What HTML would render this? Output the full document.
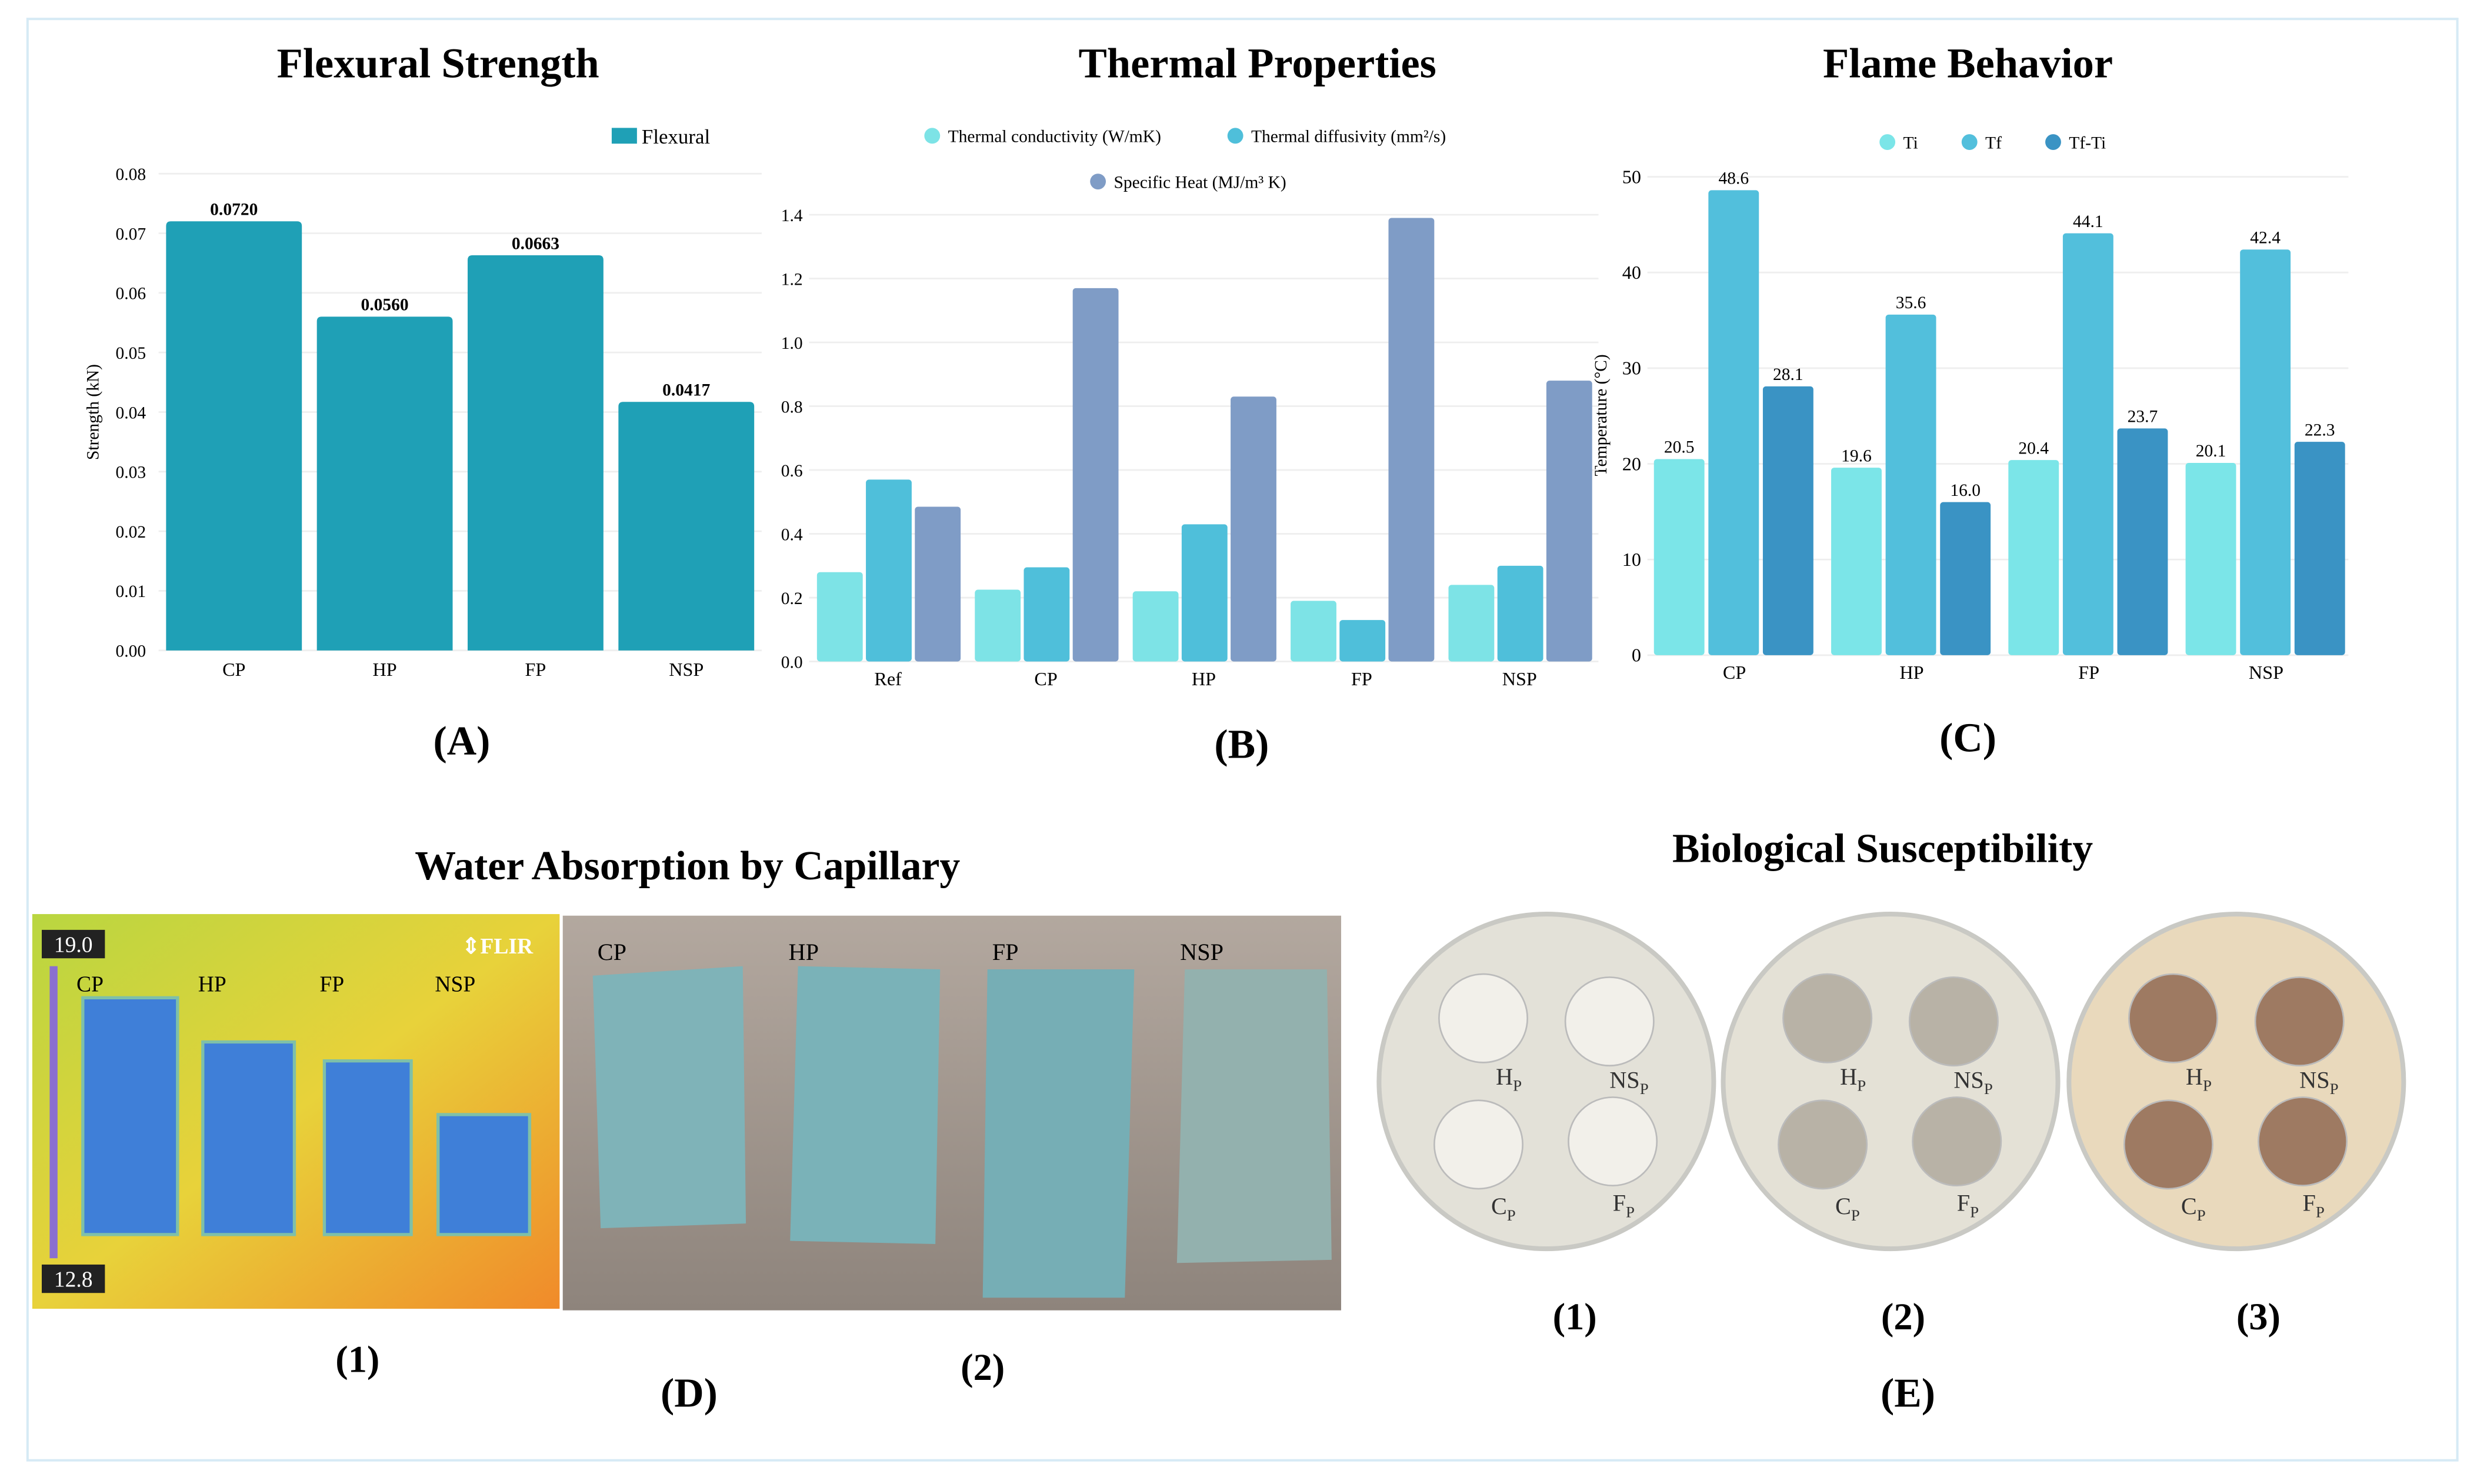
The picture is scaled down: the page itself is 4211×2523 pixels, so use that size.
<!DOCTYPE html>
<html><head><meta charset="utf-8"><style>
html,body{margin:0;padding:0;background:#fff}
svg{display:block}
text{font-family:"Liberation Serif",serif}
</style></head><body>
<svg id="s" width="4211" height="2523" viewBox="0 0 1568 940" xmlns="http://www.w3.org/2000/svg">
<rect x="17" y="12" width="1539" height="913" fill="#fff" stroke="#d6eaf5" stroke-width="1.5"/>
<g id="A">
<text x="277" y="49" font-size="27" font-weight="bold" text-anchor="middle">Flexural Strength</text>
<rect x="387" y="81" width="16" height="10" fill="#1fa0b6"/>
<text x="406" y="91" font-size="13">Flexural</text>
<text x="62" y="261" font-size="11" transform="rotate(-90 62 261)" text-anchor="middle">Strength (kN)</text>
<text x="292" y="478" font-size="26" font-weight="bold" text-anchor="middle">(A)</text>
</g>
<g id="B">
<text x="796" y="49" font-size="27" font-weight="bold" text-anchor="middle">Thermal Properties</text>
<circle cx="590" cy="86" r="5" fill="#7de3e6"/>
<text x="600" y="90" font-size="11">Thermal conductivity (W/mK)</text>
<circle cx="782" cy="86" r="5" fill="#4fbfda"/>
<text x="792" y="90" font-size="11">Thermal diffusivity (mm²/s)</text>
<circle cx="695" cy="115" r="5" fill="#7f9cc6"/>
<text x="705" y="119" font-size="11">Specific Heat (MJ/m³ K)</text>
<text x="786" y="480" font-size="26" font-weight="bold" text-anchor="middle">(B)</text>
</g>
<g id="C">
<text x="1246" y="49" font-size="27" font-weight="bold" text-anchor="middle">Flame Behavior</text>
<circle cx="1195" cy="90" r="5" fill="#7be5e8"/>
<text x="1205" y="94" font-size="11">Ti</text>
<circle cx="1247" cy="90" r="5" fill="#52bfdc"/>
<text x="1257" y="94" font-size="11">Tf</text>
<circle cx="1300" cy="90" r="5" fill="#3a93c4"/>
<text x="1310" y="94" font-size="11">Tf-Ti</text>
<text x="1017" y="263" font-size="11" transform="rotate(-90 1017 263)" text-anchor="middle">Temperature (°C)</text>
<text x="1246" y="476" font-size="26" font-weight="bold" text-anchor="middle">(C)</text>
</g>
<g>
<text x="435" y="557" font-size="26" font-weight="bold" text-anchor="middle">Water Absorption by Capillary</text>
<defs><linearGradient id="th" x1="0" y1="0" x2="1" y2="1"><stop offset="0" stop-color="#b9d640"/><stop offset="0.5" stop-color="#e8d23a"/><stop offset="1" stop-color="#f08a2a"/></linearGradient>
<linearGradient id="ph" x1="0" y1="0" x2="0" y2="1"><stop offset="0" stop-color="#b3a89f"/><stop offset="1" stop-color="#8e847c"/></linearGradient></defs>
<rect x="20" y="579" width="334" height="250" fill="url(#th)"/>
<rect x="52" y="632" width="60" height="150" fill="#3f7fd8" stroke="#7fc0a8" stroke-width="2"/>
<rect x="128" y="660" width="58" height="122" fill="#3f7fd8" stroke="#7fc0a8" stroke-width="2"/>
<rect x="205" y="672" width="55" height="110" fill="#3f7fd8" stroke="#7fc0a8" stroke-width="2"/>
<rect x="277" y="706" width="58" height="76" fill="#3f7fd8" stroke="#7fc0a8" stroke-width="2"/>
<rect x="26" y="589" width="40" height="18" fill="#222"/>
<text x="46" y="603" font-size="14" fill="#fff" text-anchor="middle" font-family="Liberation Sans">19.0</text>
<rect x="26" y="801" width="40" height="18" fill="#222"/>
<text x="46" y="815" font-size="14" fill="#fff" text-anchor="middle">12.8</text>
<rect x="31" y="612" width="5" height="185" fill="#8a6fd0"/>
<text x="292" y="604" font-size="14" fill="#fff" font-weight="bold" font-family="Liberation Sans">⇕FLIR</text>
<text x="48" y="628" font-size="14">CP</text>
<text x="125" y="628" font-size="14">HP</text>
<text x="202" y="628" font-size="14">FP</text>
<text x="275" y="628" font-size="14">NSP</text>
<rect x="356" y="580" width="493" height="250" fill="url(#ph)"/>
<polygon points="375,618 470,612 472,775 380,778" fill="#7fb3b8"/>
<polygon points="505,612 595,614 592,788 500,786" fill="#7ab2b8"/>
<polygon points="625,614 718,614 712,822 622,822" fill="#76aeb5"/>
<polygon points="750,614 840,614 843,798 745,800" fill="#93b1ae"/>
<text x="378" y="608" font-size="15">CP</text>
<text x="499" y="608" font-size="15">HP</text>
<text x="628" y="608" font-size="15">FP</text>
<text x="747" y="608" font-size="15">NSP</text>
<text x="226" y="869" font-size="24" font-weight="bold" text-anchor="middle">(1)</text>
<text x="622" y="874" font-size="24" font-weight="bold" text-anchor="middle">(2)</text>
<text x="436" y="891" font-size="26" font-weight="bold" text-anchor="middle">(D)</text>
</g>
<g id="E">
<text x="1192" y="546" font-size="26" font-weight="bold" text-anchor="middle">Biological Susceptibility</text>
<text x="1208" y="891" font-size="26" font-weight="bold" text-anchor="middle">(E)</text>
</g>
<g id="gA"></g><g id="gB"></g><g id="gC"></g>
</svg>
<script>
const NS="http://www.w3.org/2000/svg";
function mk(p,t,a,txt){const e=document.createElementNS(NS,t);for(const k in a)e.setAttribute(k,a[k]);if(txt!==undefined)e.textContent=txt;p.appendChild(e);return e;}
// Panel A data
const catsA=["CP","HP","FP","NSP"];
const flexural=[0.0720,0.0560,0.0663,0.0417];
const ticksA=[0,0.01,0.02,0.03,0.04,0.05,0.06,0.07,0.08];
// Panel B data
const catsB=["Ref","CP","HP","FP","NSP"];
const conductivity=[0.28,0.225,0.22,0.19,0.24];
const diffusivity=[0.57,0.295,0.43,0.13,0.30];
const specificHeat=[0.485,1.17,0.83,1.39,0.88];
const ticksB=[0,0.2,0.4,0.6,0.8,1.0,1.2,1.4];
// Panel C data
const catsC=["CP","HP","FP","NSP"];
const ti=[20.5,19.6,20.4,20.1];
const tf=[48.6,35.6,44.1,42.4];
const tfti=[28.1,16.0,23.7,22.3];
const ticksC=[0,10,20,30,40,50];

// A
(function(){const g=document.getElementById("gA");const x0=100,x1=482,yb=412,yt=110,max=0.08;
const y=v=>yb-(v/max)*(yb-yt);const bw=(x1-x0)/catsA.length;
ticksA.forEach(t=>{const l=mk(g,"line",{x1:x0,x2:x1,y1:y(t),y2:y(t),stroke:"#eee"});


const tx=mk(g,"text",{x:92,y:y(t)+4,"font-size":11,"text-anchor":"end"},t.toFixed(2));

});
catsA.forEach((c,i)=>{const cx=x0+bw*(i+0.5);const v=flexural[i];
const r=mk(g,"path",{d:`M${cx-43} ${yb}V${y(v)+3}Q${cx-43} ${y(v)} ${cx-40} ${y(v)}H${cx+40}Q${cx+43} ${y(v)} ${cx+43} ${y(v)+3}V${yb}Z`,fill:"#1fa0b6"});


const t=mk(g,"text",{x:cx,y:y(v)-4,"font-size":11,"font-weight":"bold","text-anchor":"middle"},v.toFixed(4));


const xl=mk(g,"text",{x:cx,y:428,"font-size":12,"text-anchor":"middle"},c);

});})();
// B
(function(){const g=document.getElementById("gB");const x0=512,x1=1012,yb=419,yt=136,max=1.4;
const y=v=>yb-(v/max)*(yb-yt);const bw=(x1-x0)/catsB.length;const series=[conductivity,diffusivity,specificHeat];const cols=["#7de3e6","#4fbfda","#7f9cc6"];
ticksB.forEach(t=>{const l=mk(g,"line",{x1:x0,x2:x1,y1:y(t),y2:y(t),stroke:"#eee"});


const tx=mk(g,"text",{x:508,y:y(t)+4,"font-size":11,"text-anchor":"end"},t.toFixed(1));

});
catsB.forEach((c,i)=>{const cx=x0+bw*(i+0.5);series.forEach((s,j)=>{const bx=cx-45+j*31;
const r=mk(g,"rect",{x:bx,y:y(s[i]),width:29,height:yb-y(s[i]),fill:cols[j],rx:2});

});
const xl=mk(g,"text",{x:cx,y:434,"font-size":12,"text-anchor":"middle"},c);

});})();
// C
(function(){const g=document.getElementById("gC");const x0=1043,x1=1492,yb=415,yt=112,max=50;
const y=v=>yb-(v/max)*(yb-yt);const bw=(x1-x0)/catsC.length;const series=[ti,tf,tfti];const cols=["#7be5e8","#52bfdc","#3a93c4"];
ticksC.forEach(t=>{const l=mk(g,"line",{x1:x0,x2:1487,y1:y(t),y2:y(t),stroke:"#eee"});


const tx=mk(g,"text",{x:1039,y:y(t)+4,"font-size":12,"text-anchor":"end"},t);

});
catsC.forEach((c,i)=>{const cx=x0+bw*(i+0.5)-1;series.forEach((s,j)=>{const bx=cx-51+j*34.5;
const r=mk(g,"rect",{x:bx,y:y(s[i]),width:32,height:yb-y(s[i]),fill:cols[j],rx:2});


const t=mk(g,"text",{x:bx+16,y:y(s[i])-4,"font-size":11,"text-anchor":"middle"},s[i].toFixed(1));

});
const xl=mk(g,"text",{x:cx,y:430,"font-size":12,"text-anchor":"middle"},c);

});})();
// E dishes
(function(){const g=document.getElementById("E");const cxs=[979,1197,1416];const bg=["#e3e1d8","#e4e1d6","#e9d9bc"];const sm=["#f2f0ea","#b8b2a6","#9e7a62"];const labs=["(1)","(2)","(3)"];
cxs.forEach((cx,i)=>{const c=mk(g,"circle",{cx:cx,cy:685,r:106,fill:bg[i],stroke:"#c9c9c4","stroke-width":3});


[[-40,-40,"H"],[40,-38,"NS"],[-43,40,"C"],[42,38,"F"]].forEach(p=>{const s=mk(g,"circle",{cx:cx+p[0],cy:685+p[1],r:28,fill:sm[i],stroke:"#bbb"});


const t=mk(g,"text",{x:cx+p[0]+(p[0]<0?8:0),y:685+p[1]+(p[1]<0?42:44),"font-size":15,"font-family":"Liberation Sans","fill":"#333"},p[2]);


const sb=mk(t,"tspan",{"font-size":10,dy:4},"P");

});
const l=mk(g,"text",{x:cx+(i==0?18:i==1?8:14),y:842,"font-size":24,"font-weight":"bold","text-anchor":"middle"},labs[i]);

});})();
</script>
</body></html>
